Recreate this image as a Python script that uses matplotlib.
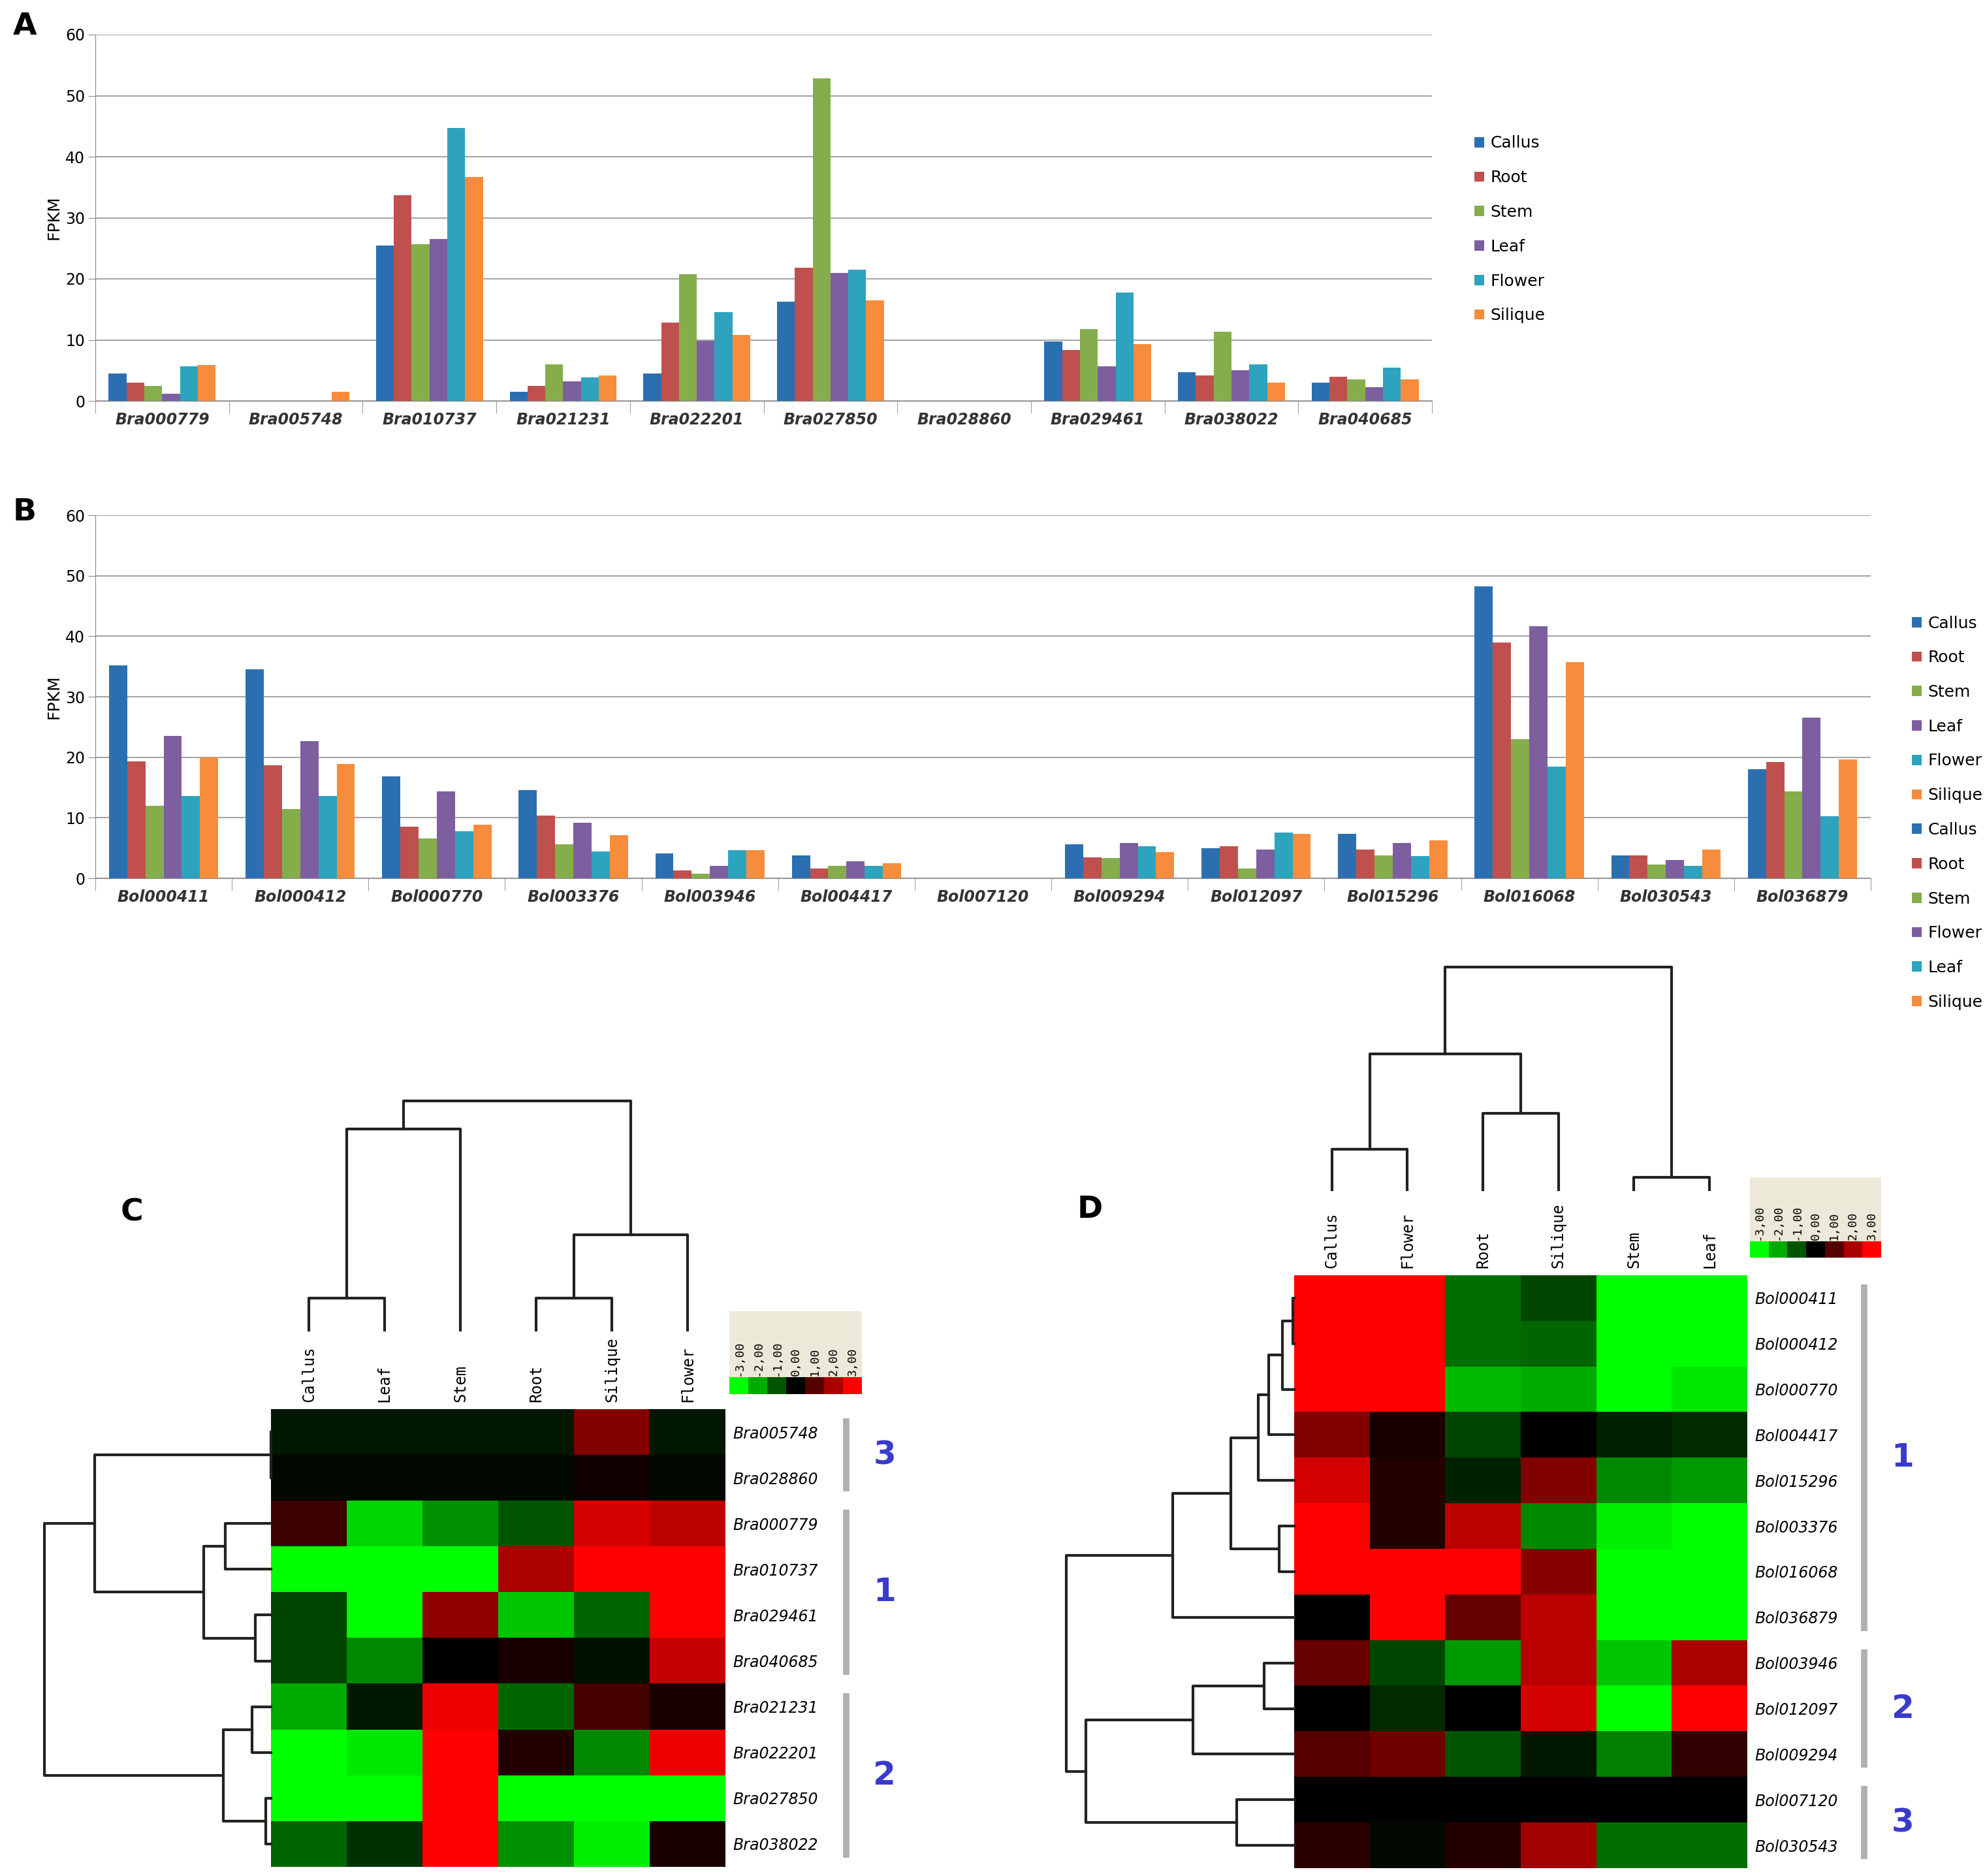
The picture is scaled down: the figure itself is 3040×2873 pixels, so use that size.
import numpy as np
import matplotlib
matplotlib.use("Agg")
import matplotlib.pyplot as plt
from matplotlib.colors import LinearSegmentedColormap

W, H = 3040, 2873

# ---------------- data ----------------
genes_a = ["Bra000779", "Bra005748", "Bra010737", "Bra021231", "Bra022201",
           "Bra027850", "Bra028860", "Bra029461", "Bra038022", "Bra040685"]
series_a = ["Callus", "Root", "Stem", "Leaf", "Flower", "Silique"]
vals_a = [
    [4.5, 3.0, 2.5, 1.2, 5.7, 5.9],
    [0, 0, 0, 0, 0, 1.5],
    [25.5, 33.7, 25.7, 26.5, 44.7, 36.7],
    [1.5, 2.5, 6.0, 3.2, 3.8, 4.2],
    [4.5, 12.8, 20.8, 9.8, 14.5, 10.8],
    [16.3, 21.8, 52.8, 21.0, 21.5, 16.5],
    [0, 0, 0, 0, 0, 0],
    [9.7, 8.3, 11.8, 5.7, 17.8, 9.3],
    [4.7, 4.2, 11.3, 5.0, 6.0, 3.0],
    [3.0, 4.0, 3.5, 2.2, 5.5, 3.5],
]
colors_a = ["#2c6fb0", "#c0504d", "#86ad4c", "#7d5fa0", "#2ea3bd", "#f68c3c"]

genes_b = ["Bol000411", "Bol000412", "Bol000770", "Bol003376", "Bol003946",
           "Bol004417", "Bol007120", "Bol009294", "Bol012097", "Bol015296",
           "Bol016068", "Bol030543", "Bol036879"]
series_b = ["Callus", "Root", "Stem", "Flower", "Leaf", "Silique"]
vals_b = [
    [35.2, 19.3, 12.0, 23.5, 13.6, 20.0],
    [34.5, 18.7, 11.4, 22.7, 13.6, 18.9],
    [16.8, 8.5, 6.6, 14.3, 7.8, 8.8],
    [14.6, 10.4, 5.6, 9.2, 4.4, 7.1],
    [4.1, 1.3, 0.8, 2.0, 4.6, 4.6],
    [3.8, 1.6, 2.0, 2.8, 2.0, 2.5],
    [0, 0, 0, 0, 0, 0],
    [5.6, 3.5, 3.3, 5.8, 5.3, 4.3],
    [5.0, 5.3, 1.6, 4.8, 7.6, 7.3],
    [7.3, 4.8, 3.8, 5.8, 3.7, 6.3],
    [48.2, 39.0, 23.0, 41.7, 18.5, 35.7],
    [3.8, 3.8, 2.3, 3.0, 2.0, 4.8],
    [18.0, 19.2, 14.3, 26.5, 10.2, 19.6],
]
colors_b = ["#2c6fb0", "#c0504d", "#86ad4c", "#7d5fa0", "#2ea3bd", "#f68c3c"]

cols_c = ["Callus", "Leaf", "Stem", "Root", "Silique", "Flower"]
rows_c = ["Bra005748", "Bra028860", "Bra000779", "Bra010737", "Bra029461",
          "Bra040685", "Bra021231", "Bra022201", "Bra027850", "Bra038022"]
heat_c = [
    [-0.3, -0.3, -0.3, -0.3, 1.5, -0.3],
    [-0.1, -0.1, -0.1, -0.1, 0.2, -0.1],
    [0.7, -2.5, -1.7, -1.0, 2.5, 2.2],
    [-3, -3, -3, 2.0, 3, 3],
    [-0.8, -3, 1.7, -2.3, -1.2, 3],
    [-0.8, -1.6, 0, 0.3, -0.2, 2.3],
    [-2.0, -0.3, 2.8, -1.2, 0.8, 0.3],
    [-3, -2.7, 3, 0.4, -1.6, 2.8],
    [-3, -3, 3, -3, -3, -3],
    [-1.2, -0.6, 3, -1.7, -2.8, 0.3],
]
# merges: (node_a, node_b, height); new nodes numbered after leaves
row_link_c = [(0, 1, 0), (2, 3, 210), (4, 5, 72), (11, 12, 307), (10, 13, 805),
              (6, 7, 87), (8, 9, 25), (15, 16, 218), (14, 17, 1035)]
col_link_c = [(0, 1, 25), (6, 2, 158), (3, 4, 25), (8, 5, 75), (7, 9, 180)]
groups_c = [("3", 0, 1), ("1", 2, 5), ("2", 6, 9)]

cols_d = ["Callus", "Flower", "Root", "Silique", "Stem", "Leaf"]
rows_d = ["Bol000411", "Bol000412", "Bol000770", "Bol004417", "Bol015296",
          "Bol003376", "Bol016068", "Bol036879", "Bol003946", "Bol012097",
          "Bol009294", "Bol007120", "Bol030543"]
heat_d = [
    [3, 3, -1.3, -0.8, -3, -3],
    [3, 3, -1.3, -1.2, -3, -3],
    [3, 3, -2.2, -2.0, -3, -2.7],
    [1.5, 0.3, -0.8, 0, -0.4, -0.5],
    [2.5, 0.4, -0.4, 1.5, -1.6, -1.8],
    [3, 0.4, 2.2, -1.6, -2.8, -3],
    [3, 3, 3, 1.6, -3, -3],
    [0, 3, 1.2, 2.2, -3, -3],
    [1.2, -0.8, -1.8, 2.2, -2.3, 2.0],
    [0, -0.5, 0, 2.5, -3, 3],
    [1.0, 1.3, -1.0, -0.3, -1.5, 0.6],
    [0, 0, 0, 0, 0, 0],
    [0.5, -0.1, 0.4, 1.9, -1.3, -1.3],
]
row_link_d = [(0, 1, 7), (13, 2, 54), (14, 3, 117), (15, 4, 164), (5, 6, 67),
              (16, 17, 287), (18, 7, 552), (8, 9, 137), (20, 10, 460),
              (11, 12, 260), (21, 22, 947), (19, 23, 1035)]
col_link_d = [(0, 1, 32), (2, 3, 60), (6, 7, 107), (4, 5, 10), (8, 9, 175)]
groups_d = [("1", 0, 7), ("2", 8, 10), ("3", 11, 12)]

scale_labels = ["-3,00", "-2,00", "-1,00", "0,00", "1,00", "2,00", "3,00"]
scale_vals = [-3, -2, -1, 0, 1, 2, 3]

cmap = LinearSegmentedColormap.from_list("gbr", ["#00ff00", "#000000", "#ff0000"])

fig = plt.figure(figsize=(W / 100, H / 100), dpi=100)


def box(x0, y0, x1, y1):
    return fig.add_axes([x0 / W, 1 - y1 / H, (x1 - x0) / W, (y1 - y0) / H])


def bar_panel(ax, genes, series, vals, colors, leg_xy):
    vals = np.array(vals)
    n = len(genes)
    x = np.arange(n)
    w = 0.8 / len(series)
    for i, s in enumerate(series):
        ax.bar(x + (i - 2.5) * w, vals[:, i], w, color=colors[i], label=s)
    ax.set_xlim(-0.5, n - 0.5)
    ax.set_ylim(0, 60)
    ax.set_yticks(range(0, 61, 10))
    ax.grid(axis="y", color="#a6a6a6", lw=1.5)
    ax.set_axisbelow(True)
    for s in ["top", "right"]:
        ax.spines[s].set_visible(False)
    ax.spines["left"].set_color("#888888")
    ax.spines["bottom"].set_color("#888888")
    ax.set_xticks(x)
    ax.set_xticklabels(genes, fontstyle="italic", fontweight="bold", fontsize=17, color="#333333")
    ax.set_xticks(np.arange(n + 1) - 0.5, minor=True)
    ax.tick_params(axis="x", which="major", length=0, pad=12)
    ax.tick_params(axis="x", which="minor", length=14, color="#888888")
    ax.tick_params(axis="y", labelsize=17, length=8, color="#888888")
    ax.set_ylabel("FPKM", fontsize=18)
    fig.legend(loc="upper left", bbox_to_anchor=(leg_xy[0] / W, 1 - leg_xy[1] / H),
               frameon=False, fontsize=18, handlelength=0.6, handleheight=0.6,
               handletextpad=0.4, labelspacing=1.15)


def dendro(ax, links, n, left):
    pos = list(range(n))
    hts = [0.0] * n
    for a, b, h in links:
        pa, pb, ha, hb = pos[a], pos[b], hts[a], hts[b]
        xs = [ha, h, h, hb]
        ys = [pa, pa, pb, pb]
        if left:
            ax.plot(xs, ys, color="#222222", lw=3, clip_on=False)
        else:
            ax.plot(ys, xs, color="#222222", lw=3, clip_on=False)
        pos.append((pa + pb) / 2)
        hts.append(h)
    ax.axis("off")


def heat_panel(hx, dl, dt, cols, rows, data, row_link, col_link, groups, brk, num, sc):
    x0, y0, x1, y1 = hx
    ax = box(x0, y0, x1, y1)
    ax.imshow(np.array(data), cmap=cmap, vmin=-3, vmax=3, aspect="auto")
    ax.set_xticks(range(len(cols)))
    ax.set_xticklabels(cols, rotation=90, family="DejaVu Sans Mono", fontsize=17)
    ax.xaxis.tick_top()
    ax.set_yticks(range(len(rows)))
    ax.set_yticklabels(rows, fontstyle="italic", fontsize=17)
    ax.yaxis.tick_right()
    ax.tick_params(length=0, pad=8)
    for s in ax.spines.values():
        s.set_visible(False)
    tr = ax.get_yaxis_transform()
    for g, r0, r1 in groups:
        ax.plot([brk, brk], [r0 - 0.3, r1 + 0.3], color="#b0b0b0", lw=7,
                transform=tr, clip_on=False, solid_capstyle="butt")
        ax.text(num, (r0 + r1) / 2, g, transform=tr, fontsize=36, fontweight="bold",
                color="#3a3acc", ha="center", va="center")
    # left dendrogram
    axl = box(dl, y0, x0, y1)
    dendro(axl, row_link, len(rows), True)
    axl.set_xlim(max(h for _, _, h in row_link), 0)
    axl.set_ylim(len(rows) - 0.5, -0.5)
    # top dendrogram
    axt = box(x0, dt[1], x1, dt[0])
    dendro(axt, col_link, len(cols), False)
    axt.set_xlim(-0.5, len(cols) - 0.5)
    axt.set_ylim(0, max(h for _, _, h in col_link))
    # colour scale
    sx0, sy0, sx1, sy1 = sc
    axs = box(sx0, sy0, sx1, sy1)
    axs.set_facecolor("#ece9d8")
    axs.set_xlim(0, 7)
    axs.set_ylim(0, 1)
    axs.imshow(np.array([scale_vals]), cmap=cmap, vmin=-3, vmax=3, aspect="auto",
               extent=(0, 7, 0, 0.2))
    for i, lab in enumerate(scale_labels):
        axs.text(i + 0.5, 0.22, lab, rotation=90, ha="center", va="bottom",
                 family="DejaVu Sans Mono", fontsize=13)
    axs.set_xticks([])
    axs.set_yticks([])
    for s in axs.spines.values():
        s.set_visible(False)


axA = box(146, 53, 2193, 614)
bar_panel(axA, genes_a, series_a, vals_a, colors_a, (2235, 185))
axB = box(146, 789, 2865, 1345)
bar_panel(axB, genes_b, series_b, vals_b, colors_b, (2905, 920))

heat_panel((415, 2158, 1111, 2859), 68, (2037, 1686), cols_c, rows_c, heat_c,
           row_link_c, col_link_c, groups_c, 1.266, 1.35, (1117, 2008, 1320, 2135))
heat_panel((1982, 1953, 2676, 2861), 1633, (1822, 1481), cols_d, rows_d, heat_d,
           row_link_d, col_link_d, groups_d, 1.258, 1.343, (2680, 1803, 2881, 1926))

for lab, x, y in [("A", 20, 18), ("B", 20, 762), ("C", 185, 1835), ("D", 1650, 1830)]:
    fig.text(x / W, 1 - y / H, lab, fontsize=34, fontweight="bold", va="top")

fig.savefig("out.png", dpi=100)
